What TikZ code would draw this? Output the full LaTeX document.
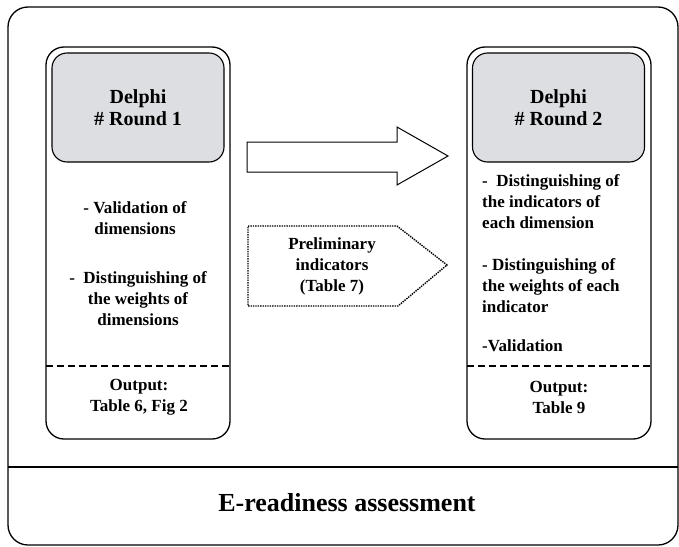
\documentclass[tikz,border=0pt]{standalone}
\usepackage{fontspec}
\setmainfont{Liberation Serif}
\usepackage{tikz}
\usetikzlibrary{positioning}
\usetikzlibrary{calc}

\definecolor{granite}{RGB}{221,222,226}

\tikzset{
  panel/.style={draw, line width=1.3pt, rounded corners=18pt, inner sep=0pt},
  headbox/.style={draw, line width=1.1pt, rounded corners=15pt, fill=granite, inner sep=0pt,
                  minimum width=172pt, minimum height=109pt, font=\fontsize{20}{22}\selectfont\bfseries, align=center},
  bodytxt/.style={font=\fontsize{17}{21}\selectfont\bfseries, inner sep=0pt},
  cut/.style={dashed, dash pattern=on 7pt off 4pt, line width=1.4pt}
}

\begin{document}
\begin{tikzpicture}[x=1pt, y=-1pt]
\useasboundingbox (0,0) rectangle (679,546);
%%%%%%%%%%%%%%
\node[panel, rounded corners=20pt, minimum width=670pt, minimum height=538pt] (frame) at (343,276) {};
\coordinate (divl) at (8,467);
\coordinate (divr) at (678,467);
\draw[line width=1.2pt] (divl) -- (divr);
\node[font=\fontsize{26}{28}\selectfont\bfseries] (goal) at (347,503) {E-readiness assessment};
%%%%%%%%%%%%%%%%%%%%%%%%%%%%%%%%%%%%%%%%%%
\node[panel, minimum width=184pt, minimum height=392pt] (col1) at (138,243) {};
\node[headbox] (head1) at (138,107.5) {Delphi\\\# Round 1};
\node[bodytxt, align=center] (task1) at (135,218.5) {- Validation of\\dimensions};
\node[bodytxt, align=center] (task2) at (138,298.5) {-\enskip Distinguishing of\\the weights of\\dimensions};
\coordinate (cut1l) at (46,366);
\coordinate (cut1r) at (230,366);
\draw[cut] (cut1l) -- (cut1r);
\node[bodytxt, align=center] (out1) at (139,397.5) {Output:\\Table 6, Fig 2};
%%%%%%%%%%%%%%%%%%%%%%%%%%%%%%%%%%%%%%%%%%
\node[panel, minimum width=184pt, minimum height=392pt] (col2) at (559,243) {};
\node[headbox] (head2) at (558.5,107.5) {Delphi\\\# Round 2};
\node[bodytxt, align=left, anchor=west] (task3) at (482,202) {-\enskip Distinguishing of\\the indicators of\\each dimension};
\node[bodytxt, align=left, anchor=west] (task4) at (482,286) {- Distinguishing of\\the weights of each\\indicator};
\node[bodytxt, align=left, anchor=west] (task5) at (482,346) {-Validation};
\coordinate (cut2l) at (467,366);
\coordinate (cut2r) at (651,366);
\draw[cut] (cut2l) -- (cut2r);
\node[bodytxt, align=center] (out2) at (559,397.5) {Output:\\Table 9};
%%%%%%%%%%%%%%%%%%%%%%%%%%%%%%%%%%%%%%%%%%
% big arrow between the rounds
\coordinate (a1) at (247,142);
\coordinate (a2) at (397,142);
\coordinate (a3) at (397,127);
\coordinate (tip) at (448,156);
\coordinate (a5) at (397,185);
\coordinate (a6) at (397,172);
\coordinate (a7) at (247,172);
\draw[line width=1pt, fill=white] (a1) -- (a2) -- (a3) -- (tip) -- (a5) -- (a6) -- (a7) -- cycle;
%%%%%%%%%%%%%%
% input of the second round
\coordinate (p1) at (248,226);
\coordinate (p2) at (397,226);
\coordinate (ptip) at (447,265);
\coordinate (p4) at (398,306);
\coordinate (p5) at (248,306);
\draw[densely dotted, line width=1.4pt] (p1) -- (p2) -- (ptip) -- (p4) -- (p5) -- cycle;
\node[bodytxt, align=center] (prelim) at (332,266) {Preliminary\\indicators\\(Table 7)};

\end{tikzpicture}
\end{document}
